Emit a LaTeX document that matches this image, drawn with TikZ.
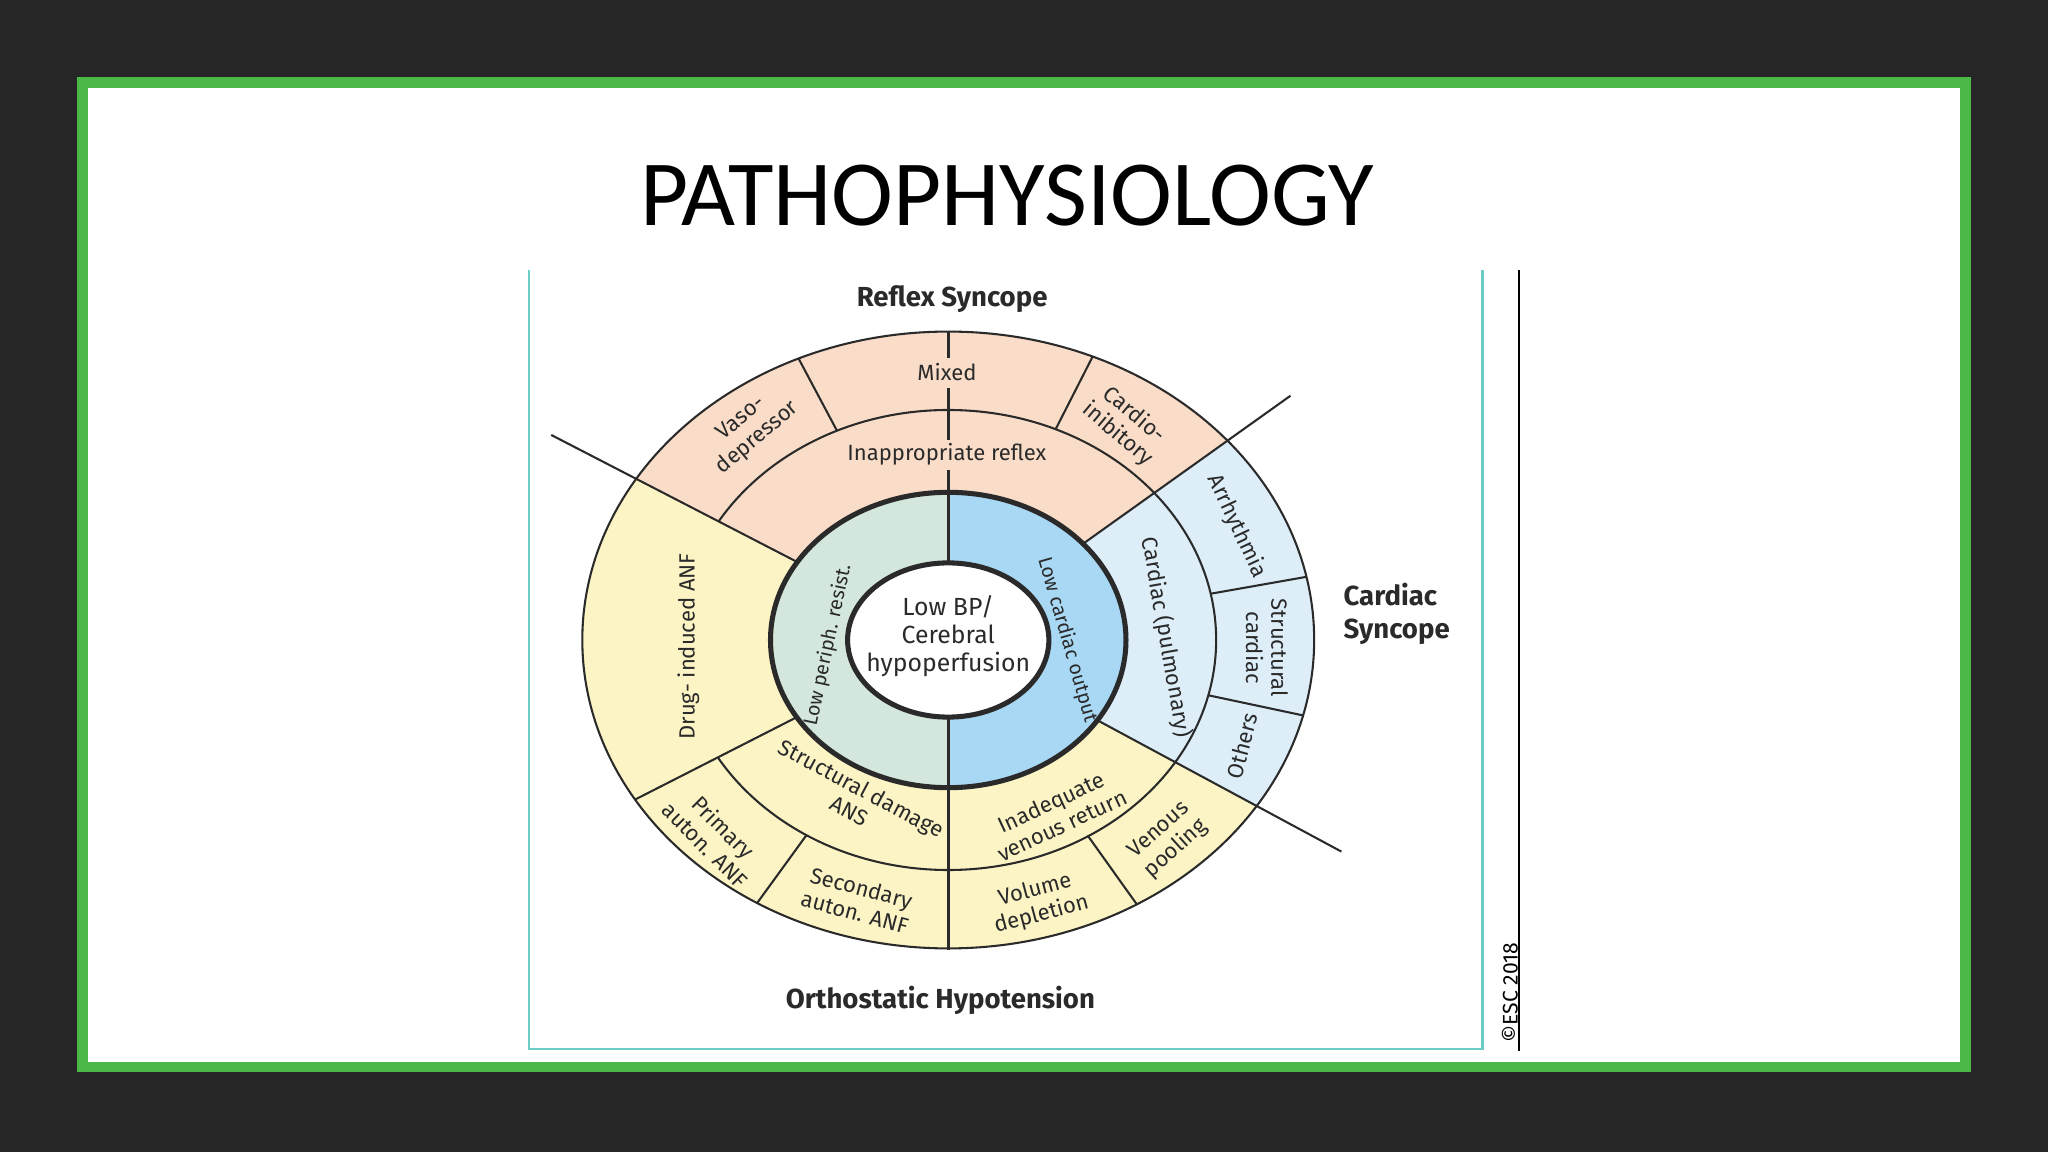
\documentclass[tikz,border=0pt]{standalone}
\usepackage{fontspec}
\setmainfont{Fira Sans}
\newfontfamily\titlefont{Carlito}
\usetikzlibrary{calc}
\definecolor{bgdark}{HTML}{262626}
\definecolor{frameg}{HTML}{4CB848}
\definecolor{teal}{HTML}{6CCDC6}
\definecolor{peach}{HTML}{FADDC8}
\definecolor{yell}{HTML}{FCF4C4}
\definecolor{lblue}{HTML}{DDEEF9}
\definecolor{igreen}{HTML}{D3E7DC}
\definecolor{iblue}{HTML}{A8D8F3}
\definecolor{ink}{HTML}{2A2A2A}
\tikzset{
  divider/.style={draw=ink,line width=0.45pt},
  ringline/.style={draw=ink,line width=0.45pt},
  thickring/.style={draw=ink,line width=1.1pt},
  lab/.style={font=\fontsize{4.8}{5.5}\selectfont,text=ink,align=center,inner sep=0pt},
  smlab/.style={font=\fontsize{4.3}{5}\selectfont,text=ink,align=center,inner sep=0pt},
  biglab/.style={font=\fontsize{6}{7}\selectfont\bfseries,text=ink,align=center,inner sep=0pt},
}
\newcommand\radline[5]{%
  \pgfmathsetmacro\rA{100*#2*#3/sqrt((#3*cos(#1))^2+(#2*sin(#1))^2)}%
  \pgfmathsetmacro\rB{100*#4*#5/sqrt((#5*cos(#1))^2+(#4*sin(#1))^2)}%
  \draw[divider] ($(C)+(#1:\rA)$) -- ($(C)+(#1:\rB)$);}
\begin{document}
\begin{tikzpicture}[x=0.01cm,y=-0.01cm]
\useasboundingbox (0,0) rectangle (1568,882);
\fill[bgdark] (0,0) rectangle (1568,882);
\fill[white] (60,60) rectangle (1508,820);
\draw[frameg,line width=0.08cm] (63,63) rectangle (1505,817);
\node[font=\titlefont\fontsize{20.3}{22}\selectfont] (title) at (771,150) {PATHOPHYSIOLOGY};
% figure frame
\draw[teal,line width=0.02cm] (405,207) -- (405,803) -- (1135,803) -- (1135,207);
\draw[black,line width=0.012cm] (1163,207) -- (1163,805);
\node[rotate=90,font=\fontsize{4.6}{5}\selectfont,inner sep=0pt] (esc) at (1156,760) {\textcopyright ESC 2018};
\coordinate (C) at (726,490);
% fills
\fill[yell] (C) ellipse [x radius=2.80cm, y radius=2.36cm];
\begin{scope}
  \clip (C) ellipse [x radius=2.80cm, y radius=2.36cm];
  \fill[peach] (C) -- (118,176) -- (726,-300) -- (1250,116) -- cycle;
  \fill[lblue] (C) -- (1250,116) -- (1700,490) -- (1328,814) -- cycle;
\end{scope}
% ring2 except drug-induced sector
\begin{scope}
  \clip (C) -- (118,176) -- (118,0) -- (1500,0) -- (1500,1000) -- (36,1000) -- (36,841) -- cycle;
  \draw[ringline] (C) ellipse [x radius=2.05cm, y radius=1.76cm];
\end{scope}
% long dividing lines
\draw[divider] (C) -- (422,333);
\draw[divider] (C) -- (988,303);
\draw[divider] (C) -- (1027,652);
\radline{153}{2.80}{2.36}{1.30}{1.08}
% band dividers
\radline{242}{2.80}{2.36}{2.05}{1.76}
\radline{297}{2.80}{2.36}{2.05}{1.76}
\radline{350}{2.80}{2.36}{2.05}{1.76}
\radline{12}{2.80}{2.36}{2.05}{1.76}
\radline{54.5}{2.80}{2.36}{2.05}{1.76}
\radline{126}{2.80}{2.36}{2.05}{1.76}
% vertical line
\draw[divider,line width=0.7pt] (726,254) -- (726,274);
\draw[divider,line width=0.7pt] (726,297) -- (726,337);
\draw[divider,line width=0.7pt] (726,360) -- (726,380);
\draw[divider,line width=0.7pt] (726,600) -- (726,727);
% outer ellipse
\draw[ringline] (C) ellipse [x radius=2.80cm, y radius=2.36cm];
% inner disk
\begin{scope}
  \clip (C) ellipse [x radius=1.36cm, y radius=1.13cm];
  \fill[igreen] (0,0) rectangle (726,900);
  \fill[iblue] (726,0) rectangle (1500,900);
  \draw[divider,line width=0.7pt] (726,300) -- (726,700);
\end{scope}
\draw[thickring] (C) ellipse [x radius=1.36cm, y radius=1.13cm];
\filldraw[fill=white,thickring] (C) ellipse [x radius=0.77cm, y radius=0.59cm];
% labels
\node[biglab] (reflex) at (729,229) {Reflex Syncope};
\node[biglab] (ortho) at (720,766) {Orthostatic Hypotension};
\node[biglab,align=left,anchor=west] (cardiac) at (1028,470) {Cardiac\\Syncope};
\node[lab] (mixed) at (725,285) {Mixed};
\node[lab,rotate=40] (vaso) at (574,328) {Vaso-\\depressor};
\node[lab,rotate=-40] (cardio) at (862,325) {Cardio-\\inibitory};
\node[lab] (inapp) at (725,348) {Inappropriate reflex};
\node[lab,rotate=90] (drug) at (527,495) {Drug- induced ANF};
\node[smlab,rotate=78] (lowp) at (634,494) {Low periph. resist.};
\node[lab,font=\fontsize{5.4}{6}\selectfont] (lowbp) at (726,487) {Low BP/\\Cerebral\\hypoperfusion};
\node[smlab,rotate=-74] (lowc) at (817,490) {Low cardiac output};
\node[lab,rotate=-80] (pulm) at (893,488) {Cardiac (pulmonary)};
\node[lab,rotate=-65] (arr) at (947,403) {Arrhythmia};
\node[lab,rotate=-90] (struct) at (970,496) {Structural\\cardiac};
\node[lab,rotate=75] (others) at (951,571) {Others};
\node[lab,rotate=-28] (sdam) at (655,612) {Structural damage\\ANS};
\node[lab,rotate=25] (inadeq) at (809,623) {Inadequate\\venous return};
\node[lab,rotate=-45] (prim) at (547,640) {Primary\\auton. ANF};
\node[lab,rotate=-15] (sec) at (657,689) {Secondary\\auton. ANF};
\node[lab,rotate=15] (vol) at (795,691) {Volume\\depletion};
\node[lab,rotate=42] (venp) at (894,643) {Venous\\pooling};
\end{tikzpicture}
\end{document}
